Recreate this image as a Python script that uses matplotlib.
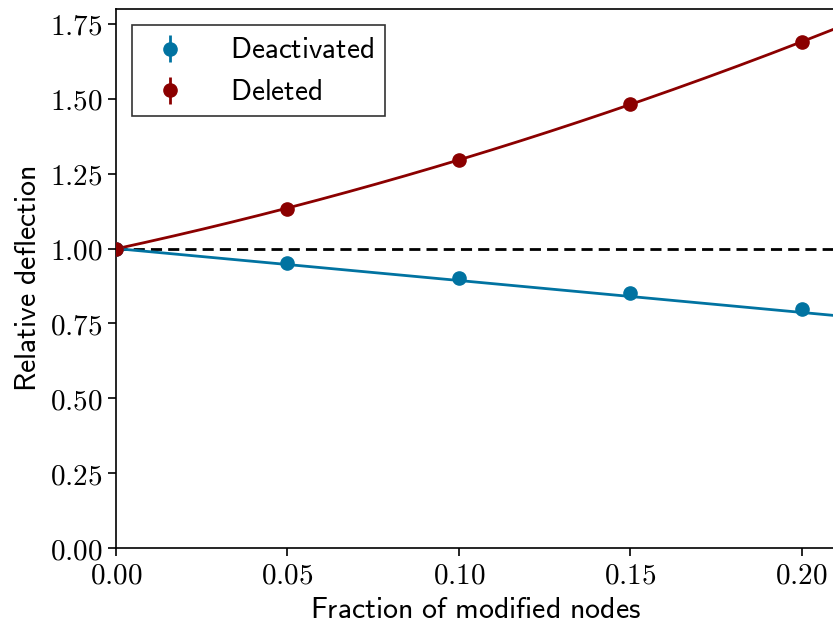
import numpy as np
import matplotlib
matplotlib.use("Agg")
import matplotlib.pyplot as plt
from matplotlib.ticker import FuncFormatter

plt.rcParams['mathtext.fontset'] = 'cm'

fraction = [0.0, 0.05, 0.10, 0.15, 0.20]
deactivated = [1.0, 0.952, 0.903, 0.853, 0.797]
deleted = [1.0, 1.133, 1.297, 1.482, 1.690]
err = [0.004, 0.004, 0.004, 0.004, 0.004]

# model line for deactivated nodes at its ends
model_x = [0.0, 0.21]
model_deactivated = [1.0, 0.776]

blue = '#0173a1'
red = '#8b0000'

fig = plt.figure(figsize=(8.33, 6.24), dpi=100)
ax = fig.add_axes([116/833, 1 - 548/624, 720/833, 539/624])

xfit = np.linspace(0, 0.21, 200)
p_del = np.polyfit(fraction, deleted, 2)

ax.axhline(1.0, color='black', ls='--', lw=2, dashes=(4, 2.2), zorder=1)
ax.plot(model_x, model_deactivated, color=blue, lw=2, zorder=2)
ax.plot(xfit, np.polyval(p_del, xfit), color=red, lw=2, zorder=2)
ax.errorbar(fraction, deactivated, yerr=err, fmt='o', color=blue, ms=9.5,
            elinewidth=2, label='Deactivated', zorder=3)
ax.errorbar(fraction, deleted, yerr=err, fmt='o', color=red, ms=9.5,
            elinewidth=2, label='Deleted', zorder=3)

ax.set_xlim(0, 0.21)
ax.set_ylim(0, 1.8)
ax.set_xticks([0.0, 0.05, 0.10, 0.15, 0.20])
ax.set_yticks([0.0, 0.25, 0.5, 0.75, 1.0, 1.25, 1.5, 1.75])
fmt = FuncFormatter(lambda v, p: r'$%.2f$' % v)
ax.xaxis.set_major_formatter(fmt)
ax.yaxis.set_major_formatter(fmt)
ax.tick_params(labelsize=21, width=1.2, length=6)
for s in ax.spines.values():
    s.set_linewidth(1.2)

ax.set_xlabel(r'$\mathsf{Fraction\ of\ modified\ nodes}$', fontsize=21.5, labelpad=4)
ax.set_ylabel(r'$\mathsf{Relative\ deflection}$', fontsize=21.5, labelpad=6)

leg = ax.legend(loc='upper left', fancybox=False, edgecolor='#333333',
                framealpha=1, borderaxespad=0.6, handletextpad=1.2,
                prop={'family': 'DejaVu Sans', 'size': 19.5})
leg.get_frame().set_linewidth(1.2)
for t in leg.get_texts():
    t.set_text(r'$\mathsf{%s}$' % t.get_text())
    t.set_fontsize(21)

fig.savefig('out.png', dpi=100)
